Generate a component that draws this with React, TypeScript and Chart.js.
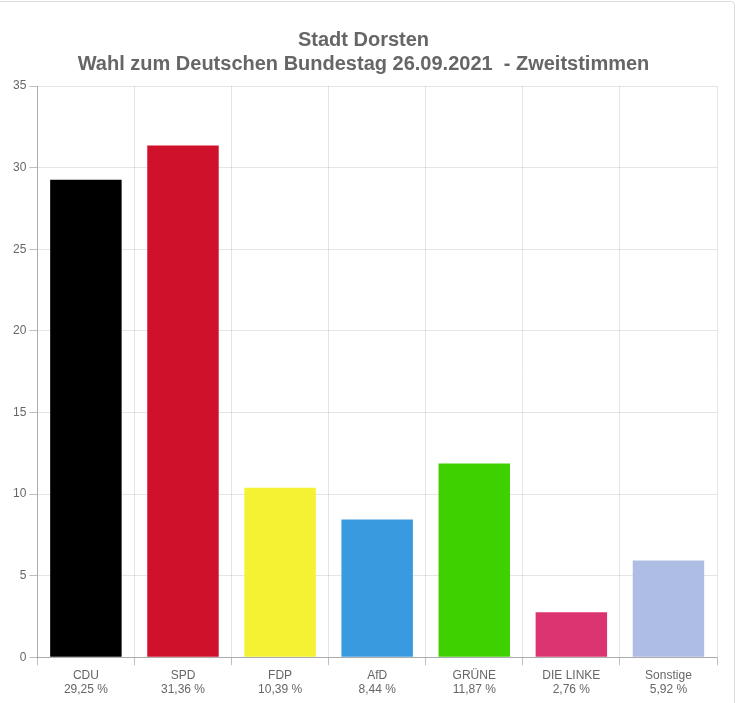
import React, { useEffect, useRef } from "react";
import { Chart, registerables } from "chart.js";

Chart.register(...registerables);

const parties: string[] = ["CDU", "SPD", "FDP", "AfD", "GRÜNE", "DIE LINKE", "Sonstige"];
const shares: number[] = [29.25, 31.36, 10.39, 8.44, 11.87, 2.76, 5.92];
const shareLabels: string[] = ["29,25 %", "31,36 %", "10,39 %", "8,44 %", "11,87 %", "2,76 %", "5,92 %"];
const barColors: string[] = ["#000000", "#d0112b", "#f5f233", "#3a9ae0", "#3fd000", "#dc3471", "#adbde4"];
const titleLines: string[] = ["Stadt Dorsten", "Wahl zum Deutschen Bundestag 26.09.2021  - Zweitstimmen"];
const yMin = 0;
const yMax = 35;
const yStep = 5;

export default function App() {
  const canvasRef = useRef<HTMLCanvasElement | null>(null);

  useEffect(() => {
    if (!canvasRef.current) return;
    const font = "'Liberation Sans', Arial, Helvetica, sans-serif";
    const chart = new Chart(canvasRef.current, {
      type: "bar",
      data: {
        labels: parties.map((p, i) => [p, shareLabels[i]]),
        datasets: [
          {
            data: shares,
            backgroundColor: barColors,
            borderWidth: 0,
            barPercentage: 0.92,
            categoryPercentage: 0.8,
          },
        ],
      },
      options: {
        animation: false,
        responsive: false,
        maintainAspectRatio: false,
        layout: { padding: { left: 10, right: 23, top: 18, bottom: 3 } },
        plugins: {
          legend: { display: false },
          tooltip: { enabled: false },
          title: {
            display: true,
            text: titleLines,
            color: "#666",
            font: { family: font, size: 20, weight: "bold", lineHeight: 1.2 },
            padding: { top: 10, bottom: 10 },
          },
        },
        scales: {
          x: {
            grid: {
              color: "rgba(0,0,0,0.1)",
              tickColor: "rgba(0,0,0,0.25)",
              offset: true,
              tickLength: 8,
            },
            border: { color: "rgba(0,0,0,0.25)" },
            ticks: { color: "#666", font: { family: font, size: 12, lineHeight: 1.2 }, padding: 3, maxRotation: 0 },
          },
          y: {
            min: yMin,
            max: yMax,
            grid: { color: "rgba(0,0,0,0.1)", tickColor: "rgba(0,0,0,0.25)", tickLength: 8 },
            border: { color: "rgba(0,0,0,0.25)" },
            ticks: { stepSize: yStep, color: "#666", font: { family: font, size: 12 }, padding: 3 },
          },
        },
      },
    });
    return () => chart.destroy();
  }, []);

  return (
    <div style={{ position: "fixed", left: 0, top: 0, width: 740, height: 703, background: "#fff", overflow: "hidden" }}>
      <div
        style={{
          position: "absolute",
          left: -10,
          top: 1,
          width: 745,
          height: 720,
          border: "1px solid #ddd",
          borderRadius: 4,
          boxSizing: "border-box",
        }}
      />
      <canvas ref={canvasRef} width={740} height={703} style={{ position: "absolute", left: 0, top: 0 }} />
    </div>
  );
}
